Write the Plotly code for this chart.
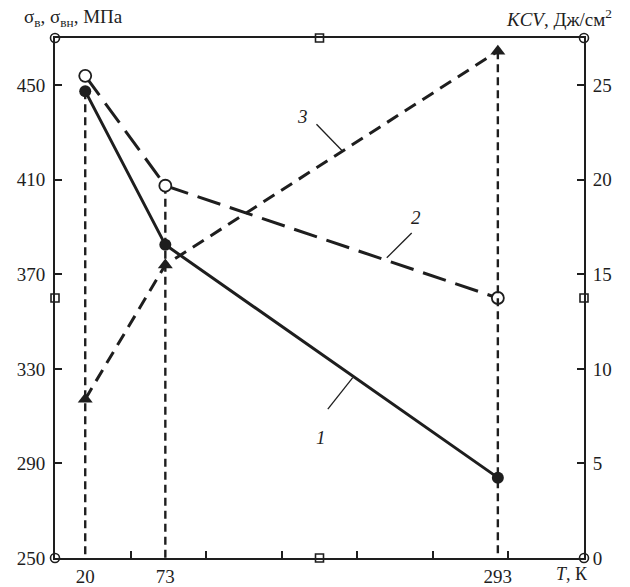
import plotly.graph_objects as go

# Data
T = [20, 73, 293]
sigma_b = [447.5, 382.5, 284]      # curve 1 (solid, filled circles)
sigma_bn = [454, 407.5, 360]       # curve 2 (long dash, open circles)
kcv = [8.4, 15.5, 26.8]            # curve 3 (dash, triangles, right axis)

x_range = [0, 350]
y_range = [250, 470]
y2_range = [0, 27.5]
left_ticks = [250, 290, 330, 370, 410, 450]
right_ticks = [0, 5, 10, 15, 20, 25]
x_ticks = [20, 73, 293]
x_minor = [50, 100, 150, 200, 250, 300]

INK = "#1e1e1e"
FONT = "Liberation Serif"
FS = 19

fig = go.Figure()

# drop lines (short dashes)
drop_tops = [sigma_b[0], sigma_bn[1]]
for t, top in zip(T[:2], drop_tops):
    fig.add_trace(go.Scatter(x=[t, t], y=[top, y_range[0]], mode="lines",
                             line=dict(color=INK, width=2.4, dash="8px,5px"),
                             showlegend=False, hoverinfo="skip"))
fig.add_trace(go.Scatter(x=[T[2], T[2]], y=[kcv[2], y2_range[0]], yaxis="y2", mode="lines",
                         line=dict(color=INK, width=2.4, dash="8px,5px"),
                         showlegend=False, hoverinfo="skip"))

# curve 3
fig.add_trace(go.Scatter(x=T, y=kcv, yaxis="y2", mode="lines+markers",
                         line=dict(color=INK, width=3, dash="13px,8px"),
                         marker=dict(symbol="triangle-up", size=13, color=INK),
                         showlegend=False, cliponaxis=False))
# curve 2
fig.add_trace(go.Scatter(x=T, y=sigma_bn, mode="lines+markers",
                         line=dict(color=INK, width=3, dash="24px,10px"),
                         marker=dict(symbol="circle", size=12, color="white",
                                     line=dict(color=INK, width=1.8)),
                         showlegend=False, cliponaxis=False))
# curve 1
fig.add_trace(go.Scatter(x=T, y=sigma_b, mode="lines+markers",
                         line=dict(color=INK, width=3),
                         marker=dict(symbol="circle", size=12, color=INK),
                         showlegend=False, cliponaxis=False))

# frame decorations: circles at corners, squares at midpoints
fig.add_trace(go.Scatter(x=[x_range[0], x_range[1], x_range[0], x_range[1]],
                         y=[y_range[0], y_range[0], y_range[1], y_range[1]],
                         mode="markers", cliponaxis=False, showlegend=False, hoverinfo="skip",
                         marker=dict(symbol="circle", size=9, color="white",
                                     line=dict(color=INK, width=1.6))))
mx = sum(x_range) / 2
my = sum(y_range) / 2
fig.add_trace(go.Scatter(x=[mx, mx, x_range[0], x_range[1]],
                         y=[y_range[0], y_range[1], my, my],
                         mode="markers", cliponaxis=False, showlegend=False, hoverinfo="skip",
                         marker=dict(symbol="square", size=8, color="white",
                                     line=dict(color=INK, width=1.6))))

# leader lines for curve labels
leaders = [((173, 433.5), (190.5, 422)),
           ((236, 387.5), (219.5, 377)),
           ((197, 326.3), (180.5, 313)),]
for (x0, y0), (x1, y1) in leaders:
    fig.add_shape(type="line", x0=x0, y0=y0, x1=x1, y1=y1, xref="x", yref="y",
                  line=dict(color=INK, width=1.3))

labels = [("3", 164, 437), ("2", 239, 394), ("1", 176, 301)]
for txt, lx, ly in labels:
    fig.add_annotation(x=lx, y=ly, xref="x", yref="y", text="<i>%s</i>" % txt,
                       showarrow=False, font=dict(family=FONT, size=FS, color=INK))

# axis titles
fig.add_annotation(xref="paper", yref="paper", x=-0.063, y=1.0, yshift=20,
                   xanchor="left", yanchor="middle", showarrow=False,
                   text="σ<sub>в</sub>, σ<sub>вн</sub>, МПа",
                   font=dict(family=FONT, size=FS, color=INK))
fig.add_annotation(xref="paper", yref="paper", x=1.0, y=1.0, xshift=30, yshift=20,
                   xanchor="right", yanchor="middle", showarrow=False,
                   text="<i>KCV</i>, Дж/см<sup>2</sup>",
                   font=dict(family=FONT, size=FS, color=INK))
fig.add_annotation(xref="paper", yref="paper", x=1.0, y=0.0, xshift=-30, yshift=-16,
                   xanchor="left", yanchor="middle", showarrow=False,
                   text="<i>T</i>, К",
                   font=dict(family=FONT, size=18, color=INK))

fig.update_layout(
    width=630, height=587,
    margin=dict(l=55, r=46, t=38, b=29, autoexpand=False),
    paper_bgcolor="white", plot_bgcolor="white",
    font=dict(family=FONT, size=FS, color=INK),
    xaxis=dict(range=x_range, tickvals=x_ticks, ticks="", showgrid=False, zeroline=False,
               showline=True, linecolor=INK, linewidth=2, mirror=True, automargin=False,
               ticklabelstandoff=0,
               minor=dict(tickvals=x_minor, ticks="inside", ticklen=7, tickcolor=INK, tickwidth=1.5),
               tickfont=dict(family=FONT, size=FS, color=INK)),
    yaxis=dict(range=y_range, tickvals=left_ticks, ticks="inside", ticklen=7, tickwidth=1.5,
               tickcolor=INK, showgrid=False, zeroline=False, showline=True, automargin=False,
               linecolor=INK, linewidth=2, ticklabelstandoff=4,
               tickfont=dict(family=FONT, size=FS, color=INK)),
    yaxis2=dict(range=y2_range, tickvals=right_ticks, overlaying="y", side="right",
                ticks="inside", ticklen=7, tickwidth=1.5, tickcolor=INK, automargin=False,
                showgrid=False, zeroline=False, showline=True, linecolor=INK, linewidth=2,
                ticklabelstandoff=3,
                tickfont=dict(family=FONT, size=FS, color=INK)),
    showlegend=False,
)

fig.write_html("out.html")
